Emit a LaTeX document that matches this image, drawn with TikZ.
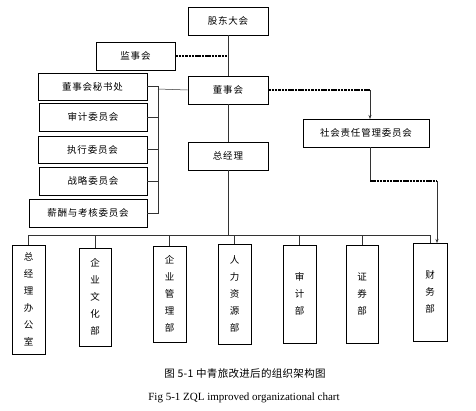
\documentclass[tikz,border=0pt]{standalone}
\usepackage{fontspec}
\setmainfont{Liberation Serif}
\newfontfamily\cjk[LetterSpace=8]{Noto Sans CJK SC}
\newfontfamily\cjkcap[LetterSpace=3]{Noto Sans CJK SC}
\usetikzlibrary{arrows.meta}
\begin{document}
\begin{tikzpicture}[x=1pt,y=-1pt,
  box/.style={draw=black,line width=0.7pt,inner sep=0pt,font=\cjk\fontsize{9.5}{11}\selectfont},
  vbox/.style={box,align=center,font=\cjk\fontsize{9.5}{17}\selectfont},
  conn/.style={draw=black!80,line width=0.5pt},
  dconn/.style={draw=black,line width=1.1pt,dash pattern=on 2.5pt off 0.8pt},
  arr/.style={conn,-{Stealth[length=4pt,width=3pt]}}]
\useasboundingbox (0,0) rectangle (476,410);
\node[box,minimum width=80pt,minimum height=28pt] (gd) at (228,21) {股东大会};
\node[box,minimum width=79pt,minimum height=28pt] (js) at (135.5,56) {监事会};
\node[box,minimum width=80pt,minimum height=28pt] (dsh) at (228,90) {董事会};
\node[box,minimum width=109pt,minimum height=27pt] (ms) at (92.5,86.5) {董事会秘书处};
\node[box,minimum width=108pt,minimum height=28pt] (sj) at (93,117) {审计委员会};
\node[box,minimum width=109pt,minimum height=27pt] (zx) at (92.5,149.5) {执行委员会};
\node[box,minimum width=108pt,minimum height=28pt] (zl) at (93,181) {战略委员会};
\node[box,minimum width=118pt,minimum height=28pt] (xc) at (88,213) {薪酬与考核委员会};
\node[box,minimum width=80pt,minimum height=28pt] (zjl) at (228,156) {总经理};
\node[box,minimum width=126pt,minimum height=28pt] (sh) at (366,133) {社会责任管理委员会};
% bottom departments
\node[vbox,minimum width=33pt,minimum height=109pt] (b1) at (28.5,299.5) {总\\经\\理\\办\\公\\室};
\node[vbox,minimum width=32pt,minimum height=98pt] (b2) at (95,297) {企\\业\\文\\化\\部};
\node[vbox,minimum width=33pt,minimum height=96pt] (b3) at (169.5,294) {企\\业\\管\\理\\部};
\node[vbox,minimum width=33pt,minimum height=100pt] (b4) at (234.5,294) {人\\力\\资\\源\\部};
\node[vbox,minimum width=33pt,minimum height=98pt] (b5) at (299.5,294) {审\\计\\部};
\node[vbox,minimum width=32pt,minimum height=98pt] (b6) at (362,294) {证\\券\\部};
\node[vbox,minimum width=34pt,minimum height=98pt] (b7) at (430,292) {财\\务\\部};
% trunk
\draw[conn] (gd.south) -- (dsh.north);
\draw[conn] (dsh.south) -- (zjl.north);
\coordinate (bus) at (228,235);
\draw[conn] (zjl.south) -- (bus);
\draw[dconn] (js.east) -- (228,56);
% committees bracket
\coordinate (br) at (158,89);
\draw[conn] (dsh.west) -- (br);
\draw[conn] (ms.east) -- (158,86.5) -- (158,213) -- (xc.east);
\draw[conn] (sj.east) -- (158,117);
\draw[conn] (zx.east) -- (158,149.5);
\draw[conn] (zl.east) -- (158,181);
% bus to departments
\draw[conn] (b1.north) -- (28.5,235) -| (b7.north);
\draw[conn] (b2.north) -- (95,235);
\draw[conn] (b3.north) -- (169.5,235);
\draw[conn] (b4.north) -- (234.5,235);
\draw[conn] (b5.north) -- (299.5,235);
\draw[conn] (b6.north) -- (362,235);
% social responsibility dashed links
\coordinate (c1) at (370,90);
\draw[dconn] (dsh.east) -- (c1);
\draw[arr] (c1) -- (370,119);
\coordinate (c2) at (370,181);
\coordinate (c3) at (437,181);
\draw[conn] (370,147) -- (c2);
\draw[dconn] (c2) -- (c3);
\draw[arr] (c3) -- (437,243);
% captions
\node[font=\cjkcap\fontsize{10.5}{12}\selectfont] (cap1) at (245,374) {图 5-1 中青旅改进后的组织架构图};
\node[font=\fontsize{11}{13}\selectfont] (cap2) at (244,398) {Fig 5-1 ZQL improved organizational chart};
\end{tikzpicture}
\end{document}
